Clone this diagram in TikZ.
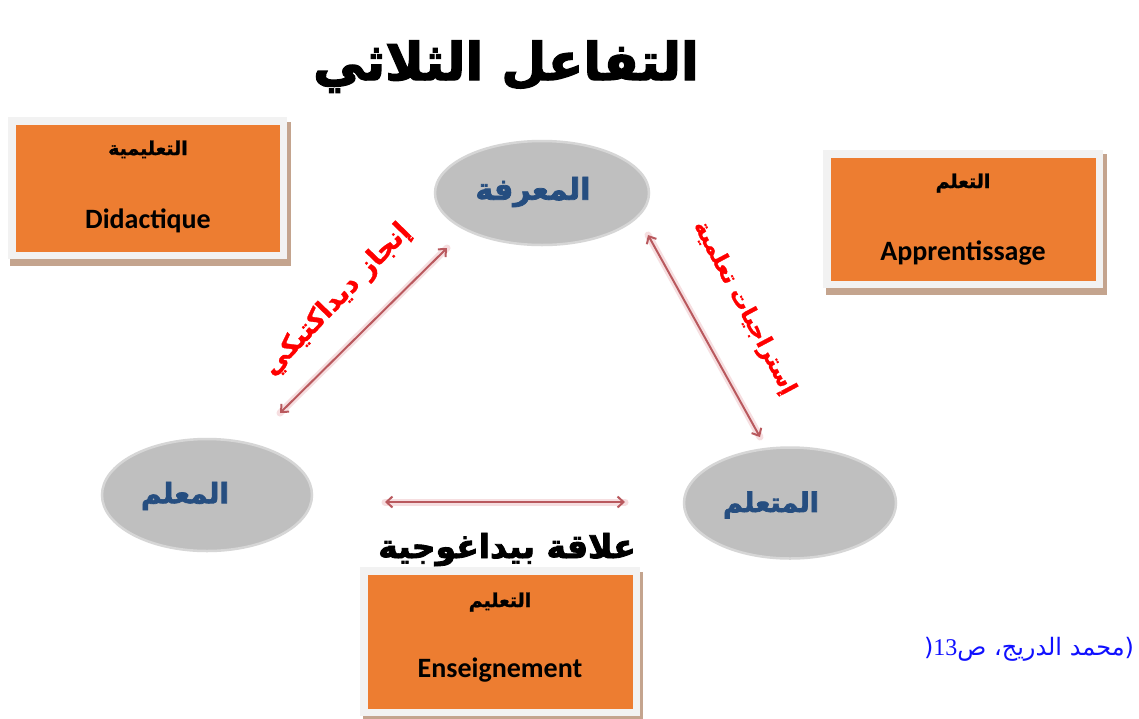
\documentclass[tikz,border=0pt]{standalone}
\usepackage{fontspec}
\usetikzlibrary{shapes.geometric,arrows.meta}
\TeXXeTstate=1
\newfontfamily\arabicfont[Script=Arabic]{DejaVu Sans}
\newfontfamily\arabicheavy[Script=Arabic, BoldFeatures={FakeBold=2.6}]{DejaVu Sans}
\newfontfamily\arabicmedium[Script=Arabic, BoldFeatures={FakeBold=1.2}]{DejaVu Sans}
\newfontfamily\calibri{Carlito}
\newfontfamily\timesfont{Liberation Serif}

\definecolor{boxorange}{HTML}{ED7D31}
\definecolor{boxframe}{HTML}{F2F2F2}
\definecolor{boxshadow}{HTML}{C4A48E}
\definecolor{ovalgray}{HTML}{BFBFBF}
\definecolor{ovaledge}{HTML}{D6D6D6}
\definecolor{ovaltext}{HTML}{264E80}
\definecolor{linkred}{HTML}{B9595E}
\definecolor{linkglow}{HTML}{F6DEE0}
\definecolor{citeblue}{HTML}{1010FF}

\tikzset{
  panel/.style={fill=boxorange, draw=boxframe, line width=7.5pt, inner sep=0pt, outer sep=0pt},
  panelshade/.style={fill=boxshadow},
  oval/.style={ellipse, fill=ovalgray, draw=ovaledge, line width=2.5pt, inner sep=0pt},
  ovallabel/.style={text=ovaltext, inner sep=0pt},
  link/.style={draw=linkred, line width=2pt, {Straight Barb[length=6pt,width=11pt]}-{Straight Barb[length=6pt,width=11pt]}},
  glow/.style={draw=linkglow, line width=7pt, line cap=round},
  paneltitle/.style={font=\arabicmedium\bfseries\fontsize{19}{22}\selectfont, anchor=base, inner sep=0pt},
  panelterm/.style={font=\calibri\bfseries\fontsize{28}{32}\selectfont, anchor=base, inner sep=0pt},
  linklabel/.style={text=red, inner sep=0pt},
}

\begin{document}
\begin{tikzpicture}[x=1pt,y=-1pt]
\useasboundingbox (0,0) rectangle (1139,718);
\fill[white] (0,0) rectangle (1139,718);

% heading
\node[anchor=base, inner sep=0pt] (title) at (506,80)
  {\arabicheavy\bfseries\fontsize{52}{60}\selectfont\beginR التفاعل الثلاثي\endR};

% panel: didactics
\fill[panelshade] (10,122) rectangle (291,266);
\node[panel, minimum width=271.5pt, minimum height=134.5pt] (didactics) at (147.5,188) {};
\node[paneltitle] (didactics-ar) at (148,155) {\beginR التعليمية\endR};
\node[panelterm] (didactics-fr) at (148,228) {Didactique};

% panel: learning
\fill[panelshade] (826,154) rectangle (1107,295);
\node[panel, minimum width=272.5pt, minimum height=130.5pt] (learning) at (963,219) {};
\node[paneltitle] (learning-ar) at (963,188) {\beginR التعلم\endR};
\node[panelterm] (learning-fr) at (963,260) {Apprentissage};

% the three poles
\node[oval, minimum width=214pt, minimum height=104pt] (knowledge) at (542,193) {};
\node[ovallabel] (knowledge-txt) at (533,192)
  {\arabicheavy\bfseries\fontsize{30}{36}\selectfont\beginR المعرفة\endR};
\node[oval, minimum width=210pt, minimum height=112pt] (teacher) at (207,495) {};
\node[ovallabel] (teacher-txt) at (185,496)
  {\arabicheavy\bfseries\fontsize{28}{34}\selectfont\beginR المعلم\endR};
\node[oval, minimum width=212pt, minimum height=111pt] (learner) at (790,503) {};
\node[ovallabel] (learner-txt) at (771,505)
  {\arabicheavy\bfseries\fontsize{27}{32}\selectfont\beginR المتعلم\endR};

% arrow ends
\coordinate (tk) at ([shift={(73,-82)}]teacher.center);
\coordinate (kt) at ([shift={(-95,55)}]knowledge.center);
\coordinate (kl) at ([shift={(106,42)}]knowledge.center);
\coordinate (lk) at ([shift={(-30,-66)}]learner.center);
\coordinate (tl) at ([shift={(178,7)}]teacher.center);
\coordinate (lt) at ([shift={(-165,-1)}]learner.center);

% relations
\draw[glow] (tk) -- (kt);
\draw[glow] (kl) -- (lk);
\draw[glow] (tl) -- (lt);
\draw[link] (tk) -- (kt);
\draw[link] (kl) -- (lk);
\draw[link] (tl) -- (lt);

\node[linklabel, rotate=46] (didlabel) at (337,300)
  {\arabicmedium\bfseries\fontsize{26.5}{32}\selectfont\beginR إنجاز ديداكتيكي\endR};
\node[linklabel, rotate=-62] (stratlabel) at (744,308)
  {\arabicmedium\bfseries\fontsize{22.5}{28}\selectfont\beginR إستراجيات تعلمية\endR};
\node[inner sep=0pt, anchor=base] (pedlabel) at (507,558)
  {\arabicheavy\bfseries\fontsize{33}{40}\selectfont\beginR علاقة بيداغوجية\endR};

% panel: teaching
\fill[panelshade] (363,572) rectangle (643,720);
\node[panel, minimum width=272.5pt, minimum height=141.5pt] (teaching) at (500,641.5) {};
\node[paneltitle] (teaching-ar) at (500,607) {\beginR التعليم\endR};
\node[panelterm] (teaching-fr) at (500,677) {Enseignement};

% reference
\node[anchor=base, inner sep=0pt, text=citeblue] (cite) at (1029,655)
  {\arabicfont\fontsize{24}{28}\selectfont (\beginR محمد الدريج، ص\beginL{\timesfont 13}\endL\endR(};
\end{tikzpicture}
\end{document}
